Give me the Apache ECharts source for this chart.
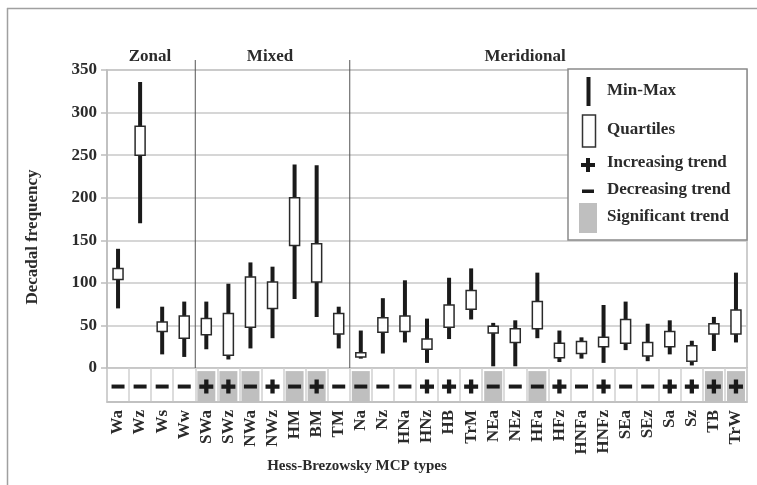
<!DOCTYPE html>
<html>
<head>
<meta charset="utf-8">
<script src="https://cdn.jsdelivr.net/npm/echarts@6/dist/echarts.min.js"></script>
<style>
html,body{margin:0;padding:0;background:#fff;}
#main{width:757px;height:485px;}
</style>
</head>
<body>
<div id="main"></div>
<script>
var categories = ['Wa','Wz','Ws','Ww','SWa','SWz','NWa','NWz','HM','BM','TM','Na','Nz','HNa','HNz','HB','TrM','NEa','NEz','HFa','HFz','HNFa','HNFz','SEa','SEz','Sa','Sz','TB','TrW'];
var minVals = [70,170,16,13,22,10,23,35,81,60,23,11,17,30,6,34,57,2,2,35,7,11,6,21,8,16,3,20,30];
var q1Vals  = [104,250,43,35,39,15,48,70,144,101,40,13,42,43,22,48,69,41,30,46,12,17,25,29,14,25,8,40,40];
var q3Vals  = [117,284,54,61,58,64,107,101,200,146,64,18,59,61,34,74,91,49,46,78,29,31,36,57,30,43,26,52,68];
var maxVals = [140,336,72,78,78,99,124,119,239,238,72,44,82,103,58,106,117,53,56,112,44,36,74,78,52,56,32,60,112];
// +1 increasing, -1 decreasing
var trendDir = [-1,-1,-1,-1,1,1,-1,1,-1,1,-1,-1,-1,-1,1,1,1,-1,-1,-1,1,-1,1,-1,-1,1,1,1,1];
var trendSig = [0,0,0,0,1,1,1,0,1,1,0,1,0,0,0,0,0,1,0,1,0,0,0,0,0,0,0,1,1];
var yTicks = [0,350,50];

var FONT = '"Liberation Serif", "DejaVu Serif", serif';
var TXT = '#2b2b2b';
var PLUS = 'path://M4.5,0H8.5V4.5H13V8.5H8.5V13H4.5V8.5H0V4.5H4.5Z';

var boxData = categories.map(function(c,i){ return [i, minVals[i], q1Vals[i], q3Vals[i], maxVals[i]]; });
var sigData = trendSig.map(function(s){ return s ? 1 : '-'; });
var trendData = trendDir.map(function(d,i){ return [i, 0.5, d]; });

function renderBox(params, api) {
  var x = api.value(0);
  var pMin = api.coord([x, api.value(1)]);
  var pQ1 = api.coord([x, api.value(2)]);
  var pQ3 = api.coord([x, api.value(3)]);
  var pMax = api.coord([x, api.value(4)]);
  var bw = 10;
  return {type:'group', children:[
    {type:'line', shape:{x1:pMin[0], y1:pMin[1], x2:pMax[0], y2:pMax[1]}, style:{stroke:'#1a1a1a', lineWidth:4}},
    {type:'rect', shape:{x:pQ1[0]-bw/2, y:pQ3[1], width:bw, height:Math.max(pQ1[1]-pQ3[1],2)}, style:{fill:'#fff', stroke:'#2a2a2a', lineWidth:1.5}}
  ]};
}

var chart = echarts.init(document.getElementById('main'), null, {renderer:'canvas'});
var option = {
  animation:false,
  backgroundColor:'#fff',
  grid:[
    {left:107, right:10, top:70, height:298, show:true, borderColor:'#bdbdbd', borderWidth:1.5, backgroundColor:'#fff'},
    {left:107, right:10, top:368, height:34, show:true, borderColor:'#bdbdbd', borderWidth:1.5, backgroundColor:'#fff'}
  ],
  xAxis:[
    {type:'category', gridIndex:0, data:categories, axisLine:{show:false}, axisTick:{show:false}, axisLabel:{show:false}, splitLine:{show:false}},
    {type:'category', gridIndex:1, data:categories, axisLine:{show:true, lineStyle:{color:'#bdbdbd', width:1.5}}, axisTick:{show:false},
      splitLine:{show:true, interval:0, lineStyle:{color:'#d0d0d0', width:1.5}},
      axisLabel:{interval:0, rotate:90, margin:8, fontFamily:FONT, fontWeight:'bold', fontSize:17, color:TXT}}
  ],
  yAxis:[
    {type:'value', gridIndex:0, min:yTicks[0], max:yTicks[1], interval:yTicks[2],
      axisLine:{show:true, lineStyle:{color:'#bdbdbd', width:1.5}},
      axisTick:{show:true, length:6, lineStyle:{color:'#bdbdbd', width:1.5}},
      splitLine:{show:true, lineStyle:{color:'#c8c8c8', width:1.5}},
      axisLabel:{margin:10, fontFamily:FONT, fontWeight:'bold', fontSize:17, color:TXT}},
    {type:'value', gridIndex:1, min:0, max:1.1, show:false, splitLine:{show:false}}
  ],
  series:[
    {type:'custom', xAxisIndex:0, yAxisIndex:0, renderItem:renderBox, data:boxData, encode:{x:0, y:[1,2,3,4]}, z:5},
    {type:'bar', xAxisIndex:1, yAxisIndex:1, data:sigData, barWidth:18, itemStyle:{color:'#bfbfbf'}, silent:true, z:2},
    {type:'scatter', xAxisIndex:1, yAxisIndex:1, data:trendData, z:5,
      symbol:function(v){ return v[2] > 0 ? PLUS : 'rect'; },
      symbolSize:function(v){ return v[2] > 0 ? [14,14] : [13,4]; },
      itemStyle:{color:'#1a1a1a', opacity:1}}
  ]
};
chart.setOption(option);

function px(i){ var p = chart.convertToPixel({xAxisIndex:0}, i); return Array.isArray(p) ? p[0] : p; }
var sep1 = (px(3)+px(4))/2, sep2 = (px(10)+px(11))/2;
var y0r = chart.convertToPixel({yAxisIndex:0}, 0);
var y0 = Array.isArray(y0r) ? y0r[1] : y0r;
var lx = 607;
var plusPts = [[586,158],[590,158],[590,163],[595,163],[595,167],[590,167],[590,172],[586,172],[586,167],[581,167],[581,163],[586,163]];
chart.setOption({graphic:[
  {type:'line', shape:{x1:7.5,y1:8,x2:7.5,y2:485}, style:{stroke:'#a0a0a0', lineWidth:1.5}},
  {type:'line', shape:{x1:7,y1:8.5,x2:757,y2:8.5}, style:{stroke:'#a0a0a0', lineWidth:1.5}},
  {type:'line', shape:{x1:sep1,y1:60,x2:sep1,y2:y0}, style:{stroke:'#555', lineWidth:1}, z:10},
  {type:'line', shape:{x1:sep2,y1:60,x2:sep2,y2:y0}, style:{stroke:'#555', lineWidth:1}, z:10},
  {type:'text', x:150, y:57, style:{text:'Zonal', font:'bold 17px '+FONT, fill:TXT, textAlign:'center', textVerticalAlign:'middle'}},
  {type:'text', x:270, y:57, style:{text:'Mixed', font:'bold 17px '+FONT, fill:TXT, textAlign:'center', textVerticalAlign:'middle'}},
  {type:'text', x:525, y:57, style:{text:'Meridional', font:'bold 17px '+FONT, fill:TXT, textAlign:'center', textVerticalAlign:'middle'}},
  {type:'text', x:33, y:237, rotation:Math.PI/2, style:{text:'Decadal frequency', font:'bold 17px '+FONT, fill:TXT, textAlign:'center', textVerticalAlign:'middle'}},
  {type:'text', x:357, y:466, style:{text:'Hess-Brezowsky MCP types', font:'bold 15px '+FONT, fill:TXT, textAlign:'center', textVerticalAlign:'middle'}},
  {type:'rect', shape:{x:568, y:69, width:179, height:171}, style:{fill:'#fff', stroke:'#8a8a8a', lineWidth:1.5}, z:20},
  {type:'rect', shape:{x:586.5, y:77, width:4, height:29}, style:{fill:'#1a1a1a'}, z:21},
  {type:'rect', shape:{x:582.5, y:115, width:13, height:32}, style:{fill:'#fff', stroke:'#333', lineWidth:1.5}, z:21},
  {type:'polygon', shape:{points:plusPts}, style:{fill:'#1a1a1a'}, z:21},
  {type:'rect', shape:{x:582, y:189.5, width:12, height:3.5}, style:{fill:'#1a1a1a'}, z:21},
  {type:'rect', shape:{x:579, y:203, width:18, height:30}, style:{fill:'#bfbfbf'}, z:21},
  {type:'text', x:lx, y:91, z:21, style:{text:'Min-Max', font:'bold 17px '+FONT, fill:TXT, textVerticalAlign:'middle'}},
  {type:'text', x:lx, y:130, z:21, style:{text:'Quartiles', font:'bold 17px '+FONT, fill:TXT, textVerticalAlign:'middle'}},
  {type:'text', x:lx, y:163, z:21, style:{text:'Increasing trend', font:'bold 17px '+FONT, fill:TXT, textVerticalAlign:'middle'}},
  {type:'text', x:lx, y:190, z:21, style:{text:'Decreasing trend', font:'bold 17px '+FONT, fill:TXT, textVerticalAlign:'middle'}},
  {type:'text', x:lx, y:217, z:21, style:{text:'Significant trend', font:'bold 17px '+FONT, fill:TXT, textVerticalAlign:'middle'}}
]});
</script>
</body>
</html>
